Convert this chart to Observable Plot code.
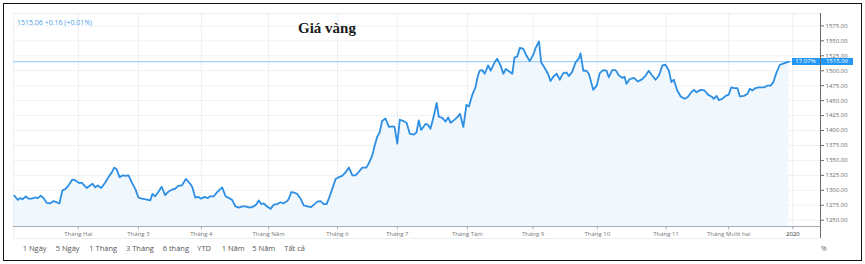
<!DOCTYPE html>
<html>
<head>
<meta charset="utf-8">
<script src="https://cdn.jsdelivr.net/npm/d3@7"></script>
<script src="https://cdn.jsdelivr.net/npm/@observablehq/plot@0.6"></script>
<style>
  body { margin: 0; background: #fff; }
  #wrap { position: relative; width: 865px; height: 264px; overflow: hidden; font-family: "Open Sans", "Liberation Sans", sans-serif; }
  #wrap svg { position: absolute; left: 0; top: 0; }
  .ov { position: absolute; white-space: nowrap; line-height: 1; }
  #frame { position: absolute; left: 2.5px; top: 2.5px; width: 857px; height: 256px; border: 1.5px solid #111; pointer-events: none; }
  .box { position: absolute; background: #2196f3; color: #fff; font-size: 6px; line-height: 6.5px; height: 6.5px; text-align: center; }
</style>
</head>
<body>
<div id="wrap"></div>
<script>
// Trading-day index (0 = first session of 2019) and gold price
const days = [0.3,1.4,2.2,2.9,4.0,4.8,5.9,7.0,7.8,8.8,9.7,10.7,11.8,12.9,14.0,14.8,15.8,16.7,17.7,19.0,19.9,21.2,22.0,22.9,23.6,24.7,25.5,26.4,27.2,28.3,29.6,30.6,31.7,32.5,33.3,34.2,35.2,36.2,37.1,38.2,39.3,40.3,41.4,42.7,44.1,44.8,45.7,46.8,47.8,48.9,50.0,51.1,52.2,53.2,54.3,55.6,57.0,57.7,58.6,59.7,60.5,61.6,62.7,63.5,64.6,65.7,67.3,68.4,69.5,70.5,71.6,72.7,73.8,74.8,76.2,77.5,78.4,79.1,79.9,80.7,81.8,82.9,84.0,85.1,86.1,87.0,88.3,88.8,89.6,90.6,91.5,92.6,93.6,94.7,96.0,96.9,98.0,99.0,100.1,101.0,101.7,102.8,103.9,104.9,106.0,107.1,108.2,109.3,110.3,111.4,112.5,113.8,114.6,115.7,116.5,117.3,118.1,118.9,120.0,121.1,122.2,122.9,123.8,124.6,125.7,126.8,127.8,129.1,130.0,130.7,131.5,132.9,133.6,134.5,135.6,136.5,137.2,138.3,139.4,140.2,141.0,142.0,143.1,144.0,145.1,146.1,146.9,148.0,149.0,149.8,150.4,151.2,152.0,153.1,153.9,155.2,156.0,157.1,158.0,158.8,159.8,160.9,161.6,162.5,163.3,164.4,165.5,166.5,167.6,168.4,169.5,170.2,171.3,172.4,173.2,174.1,175.2,176.2,177.3,178.4,179.1,180.2,181.3,182.4,182.9,183.8,184.8,185.6,187.0,188.1,189.1,190.2,191.3,192.0,193.1,194.2,195.3,196.4,197.1,197.7,198.8,200.1,201.4,202.8,203.9,204.9,206.0,207.1,208.2,209.3,210.3,211.4,212.2,213.0,214.1,215.2,216.5,217.5,218.6,219.5,220.3,221.6,222.9,224.0,225.1,225.9,226.8,227.5,228.6,229.7,230.7,231.5,232.4,233.5,234.3,235.6,236.7,237.5,238.3,239.4,240.4,242.0,243.1,244.2,245.1,246.1,247.2,248.3,249.4,250.1];
const prices = [1291,1284,1287,1285,1290,1286,1286,1288,1287,1291,1287,1279,1278,1282,1280,1278,1300,1302,1308,1318,1317,1312,1313,1308,1304,1308,1311,1305,1308,1304,1313,1322,1330,1338,1335,1322,1325,1324,1325,1313,1302,1288,1286,1285,1283,1294,1290,1298,1306,1292,1298,1301,1303,1308,1308,1319,1311,1305,1288,1289,1286,1289,1287,1290,1290,1297,1305,1290,1287,1284,1273,1271,1273,1273,1271,1273,1277,1283,1277,1278,1273,1269,1276,1277,1280,1278,1282,1286,1297,1296,1294,1286,1275,1273,1272,1276,1281,1282,1277,1277,1286,1302,1319,1322,1324,1330,1338,1325,1325,1331,1338,1338,1345,1358,1375,1389,1397,1416,1420,1406,1407,1406,1378,1418,1416,1413,1395,1393,1397,1417,1401,1411,1410,1403,1425,1446,1423,1421,1415,1422,1413,1417,1422,1428,1406,1443,1440,1460,1472,1492,1500,1501,1495,1509,1500,1514,1520,1509,1495,1503,1499,1495,1522,1524,1538,1537,1525,1516,1526,1538,1549,1514,1505,1495,1483,1490,1495,1485,1496,1497,1491,1498,1514,1521,1529,1500,1500,1495,1468,1475,1496,1501,1500,1489,1501,1501,1492,1488,1490,1478,1486,1488,1482,1486,1492,1500,1492,1485,1492,1509,1510,1500,1481,1485,1467,1457,1453,1456,1464,1468,1464,1468,1467,1460,1457,1453,1458,1451,1453,1458,1460,1472,1471,1471,1457,1458,1461,1470,1467,1471,1472,1472,1475,1475,1481,1497,1510,1512,1514,1515.06];

const monthPos = [20.9,40.3,60.6,82.3,104.5,123.8,146.4,167.6,188.3,210.5,230.7,251.4];
const monthLabels = ["Tháng Hai","Tháng 3","Tháng 4","Tháng Năm","Tháng 6","Tháng 7","Tháng Tám","Tháng 9","Tháng 10","Tháng 11","Tháng Mười hai","2020"];
const yTicks = [1250,1275,1300,1325,1350,1375,1400,1425,1450,1475,1500,1525,1550,1575];
const lastPrice = 1515.06;
const changeText = "1515.06  +0.16 (+0.01%)";
const pctText = "17.07%";
const title = "Giá vàng";
const rangeButtons = ["1 Ngày","5 Ngày","1 Tháng","3 Tháng","6 tháng","YTD","1 Năm","5 Năm","Tất cả"];

const data = days.map((d, i) => ({day: d, price: prices[i]}));
const xTicks = monthPos.map((p, i) => ({pos: p, label: monthLabels[i]}));

const xDom = [0, 260.3];
const yDom = [1239.5, 1595.7];
const yBottomExt = 1219.4; // grid extends below the axis into the label band

const chart = Plot.plot({
  width: 865, height: 264,
  marginTop: 13, marginBottom: 38, marginLeft: 13, marginRight: 45,
  x: {domain: xDom, axis: null, label: null},
  y: {domain: yDom, axis: null, label: null},
  style: {fontFamily: "'Open Sans', 'Liberation Sans', sans-serif", background: "transparent"},
  marks: [
    Plot.ruleY(yTicks, {stroke: "#eef1f4", strokeWidth: 1}),
    Plot.ruleY([yDom[1], yBottomExt], {x1: xDom[0], x2: xDom[1], stroke: "#eceff2"}),
    Plot.ruleX(monthPos, {y1: yDom[1], y2: yBottomExt, stroke: "#eceff3"}),
    Plot.ruleX([xDom[0]], {y1: yDom[1], y2: yBottomExt, stroke: "#eceff3"}),
    Plot.areaY(data, {x: "day", y1: yDom[0], y2: "price", fill: "#f0f7fd", curve: "linear"}),
    Plot.ruleY([lastPrice], {stroke: "#93c6f0", strokeWidth: 1}),
    Plot.line(data, {x: "day", y: "price", stroke: "#2d8fe3", strokeWidth: 1.8, strokeLinejoin: "round"}),
    Plot.ruleY([yDom[0]], {stroke: "#a7adb4", strokeWidth: 1}),
    Plot.ruleX(monthPos, {y1: yDom[0], y2: yDom[0] - 5, stroke: "#a7adb4"}),
    Plot.ruleX([xDom[1]], {y1: yDom[1], y2: yBottomExt, stroke: "#6b6b6b", strokeWidth: 1}),
    Plot.axisY({anchor: "right", label: null, ticks: yTicks, tickFormat: d => d.toFixed(2), tickSize: 3, tickPadding: 2, fontSize: 6, fill: "#6a6a6a", stroke: "#6b6b6b"}),
    Plot.text(xTicks, {x: "pos", y: yDom[0], dy: 8, text: "label", fontSize: 6,
      fill: d => d.label === "2020" ? "#333" : "#7a7a7a", fontWeight: d => d.label === "2020" ? "bold" : "normal"})
  ]
});

const wrap = document.getElementById("wrap");
wrap.appendChild(chart);

function addText(txt, left, top, css) {
  const s = document.createElement("div");
  s.className = "ov";
  s.textContent = txt;
  s.style.left = left + "px";
  s.style.top = top + "px";
  Object.assign(s.style, css || {});
  wrap.appendChild(s);
  return s;
}

// header and title
addText(changeText, 17, 18.5, {fontSize: "7px", color: "#4f9fe6"});
addText(title, 298, 21, {fontFamily: "'Liberation Serif', 'DejaVu Serif', serif", fontWeight: "bold", fontSize: "15px", color: "#1b1b1b"});

// range buttons
const btnX = [22.7, 55.7, 89.3, 126, 162.7, 197.3, 221.7, 252.3, 284.3];
rangeButtons.forEach((b, i) => addText(b, btnX[i], 245, {fontSize: "7.5px", color: "#555"}));
addText("%", 821, 244.5, {fontSize: "7px", color: "#666"});

// last-price labels, positioned through the y scale
const ys = chart.scale("y");
const py = ys.apply(lastPrice);
const b1 = document.createElement("div");
b1.className = "box"; b1.textContent = pctText;
Object.assign(b1.style, {left: "791.5px", width: "28px", top: (py - 3) + "px"});
wrap.appendChild(b1);
const b2 = document.createElement("div");
b2.className = "box"; b2.textContent = lastPrice.toFixed(2);
Object.assign(b2.style, {left: "821px", width: "32px", top: (py - 3) + "px"});
wrap.appendChild(b2);

const frame = document.createElement("div");
frame.id = "frame";
wrap.appendChild(frame);
</script>
</body>
</html>
